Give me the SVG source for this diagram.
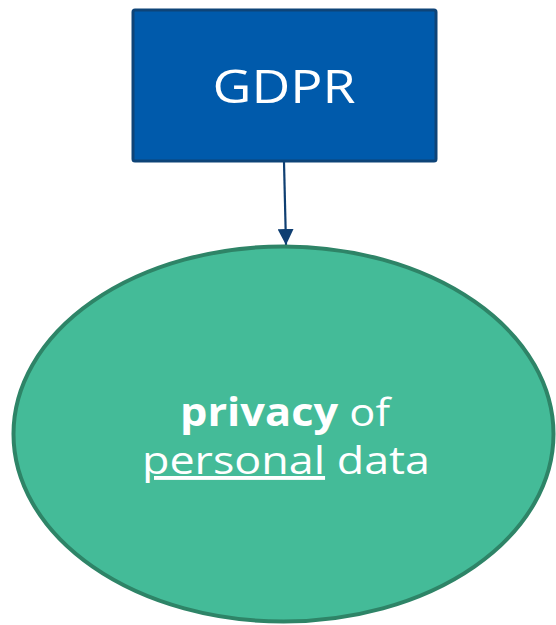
<svg xmlns="http://www.w3.org/2000/svg" width="556" height="625" viewBox="0 0 556 625">
<defs>
<style>
.t{font-family:"Open Sans","Liberation Sans",sans-serif;fill:#ffffff;text-anchor:middle}
</style>
<marker id="ah" markerWidth="16" markerHeight="16" refX="16" refY="8" orient="auto" markerUnits="userSpaceOnUse">
<path d="M0,0 L16,8 L0,16 Z" fill="#0F3F72"/>
</marker>
</defs>
<rect width="556" height="625" fill="#ffffff"/>
<g id="connectors">
<line x1="284" y1="162" x2="286" y2="245" stroke="#0F3F72" stroke-width="2.2" marker-end="url(#ah)"/>
</g>
<g id="gdpr">
<rect x="133" y="10" width="303" height="151" rx="2" fill="#005AAB" stroke="#0E4478" stroke-width="3"/>
<text class="t" x="284" y="103" font-size="46" textLength="143" lengthAdjust="spacingAndGlyphs">GDPR</text>
</g>
<g id="privacy">
<ellipse cx="283.5" cy="434" rx="270" ry="187.5" fill="#44BB98" stroke="#2E8467" stroke-width="4"/>
<text class="t" x="285" y="426" font-size="39" textLength="210" lengthAdjust="spacingAndGlyphs"><tspan font-weight="bold">privacy</tspan> of</text>
<text class="t" x="286" y="474" font-size="39" textLength="288" lengthAdjust="spacingAndGlyphs"><tspan text-decoration="underline">personal</tspan> data</text>
</g>
</svg>
